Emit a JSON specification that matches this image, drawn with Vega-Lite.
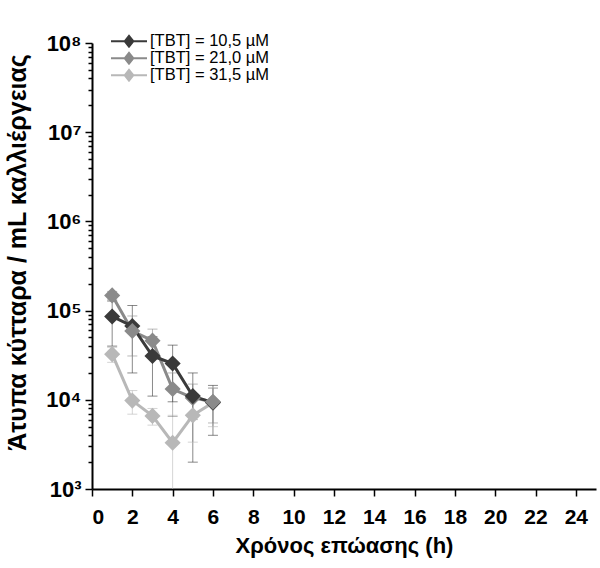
{
  "$schema": "https://vega.github.io/schema/vega-lite/v6.json",
  "width": 504,
  "height": 446,
  "autosize": {"type": "none"},
  "padding": {"left": 92, "top": 43, "right": 4, "bottom": 79},
  "background": "white",
  "config": {
    "view": {"stroke": null},
    "font": "Liberation Sans",
    "axis": {"grid": false, "domainColor": "#000", "domainWidth": 2, "tickColor": "#000", "tickWidth": 1.5, "labelFont": "Liberation Sans", "labelFontWeight": "bold", "labelFontSize": 21, "labelColor": "#000", "titleFont": "Liberation Sans", "titleFontWeight": "bold", "titleFontSize": 22, "titleColor": "#000"}
  },
  "data": {"values": [
    {"s": "[TBT] = 31,5 µM", "t": 1, "v": 32500, "lo": 26300, "hi": 38700},
    {"s": "[TBT] = 31,5 µM", "t": 2, "v": 9800, "lo": 6900, "hi": 12700},
    {"s": "[TBT] = 31,5 µM", "t": 3, "v": 6600, "lo": 5200, "hi": 8000},
    {"s": "[TBT] = 31,5 µM", "t": 4, "v": 3300, "lo": 1000, "hi": 6700},
    {"s": "[TBT] = 31,5 µM", "t": 5, "v": 6700, "lo": 3350, "hi": 10000},
    {"s": "[TBT] = 31,5 µM", "t": 6, "v": 9300, "lo": 5000, "hi": 13600},
    {"s": "[TBT] = 21,0 µM", "t": 1, "v": 148000, "lo": 132000, "hi": 164000},
    {"s": "[TBT] = 21,0 µM", "t": 3, "v": 46000, "lo": 30000, "hi": 62000},
    {"s": "[TBT] = 21,0 µM", "t": 4, "v": 13200, "lo": 6500, "hi": 20000},
    {"s": "[TBT] = 21,0 µM", "t": 5, "v": 10500, "lo": 6000, "hi": 15000},
    {"s": "[TBT] = 10,5 µM", "t": 1, "v": 86000, "lo": 40000, "hi": 128000},
    {"s": "[TBT] = 10,5 µM", "t": 2, "v": 67000, "lo": 20000, "hi": 114000},
    {"s": "[TBT] = 10,5 µM", "t": 3, "v": 31000, "lo": 11000, "hi": 51000},
    {"s": "[TBT] = 10,5 µM", "t": 4, "v": 25500, "lo": 9500, "hi": 41000},
    {"s": "[TBT] = 10,5 µM", "t": 5, "v": 11000, "lo": 2000, "hi": 20000},
    {"s": "[TBT] = 10,5 µM", "t": 6, "v": 9300, "lo": 4000, "hi": 14500},
    {"s": "[TBT] = 21,0 µM", "t": 2, "v": 59000, "lo": 31000, "hi": 87000},
    {"s": "[TBT] = 21,0 µM", "t": 6, "v": 9500, "lo": 5500, "hi": 13500}
  ]},
  "layer": [
    {
      "mark": {"type": "rule", "strokeWidth": 1, "opacity": 0.6},
      "encoding": {
        "x": {"field": "t", "type": "quantitative"},
        "y": {"field": "lo", "type": "quantitative"},
        "y2": {"field": "hi"},
        "color": {"field": "s", "type": "nominal"}
      }
    },
    {
      "mark": {"type": "tick", "orient": "horizontal", "size": 10, "thickness": 1, "opacity": 0.6},
      "encoding": {
        "x": {"field": "t", "type": "quantitative"},
        "y": {"field": "hi", "type": "quantitative"},
        "color": {"field": "s", "type": "nominal"}
      }
    },
    {
      "transform": [{"filter": "datum.lo > 1000"}],
      "mark": {"type": "tick", "orient": "horizontal", "size": 10, "thickness": 1, "opacity": 0.6},
      "encoding": {
        "x": {"field": "t", "type": "quantitative"},
        "y": {"field": "lo", "type": "quantitative"},
        "color": {"field": "s", "type": "nominal"}
      }
    },
    {
      "mark": {"type": "line", "strokeWidth": 3},
      "encoding": {
        "x": {"field": "t", "type": "quantitative",
          "scale": {"domain": [0, 25], "nice": false},
          "axis": {"values": [0, 2, 4, 6, 8, 10, 12, 14, 16, 18, 20, 22, 24], "tickSize": 7, "labelFontSize": 21, "labelPadding": 10, "title": "Χρόνος επώασης (h)", "titlePadding": 8}},
        "y": {"field": "v", "type": "quantitative",
          "scale": {"type": "log", "domain": [1000, 100000000], "nice": false},
          "axis": {"values": [1000,2000,3000,4000,5000,6000,7000,8000,9000,10000,20000,30000,40000,50000,60000,70000,80000,90000,100000,200000,300000,400000,500000,600000,700000,800000,900000,1000000,2000000,3000000,4000000,5000000,6000000,7000000,8000000,9000000,10000000,20000000,30000000,40000000,50000000,60000000,70000000,80000000,90000000,100000000],
            "labelExpr": "abs(log(datum.value)/LN10 - round(log(datum.value)/LN10)) < 0.000001 ? '10' + ['⁰','¹','²','³','⁴','⁵','⁶','⁷','⁸'][round(log(datum.value)/LN10)] : ''",
            "tickSize": {"condition": {"test": "abs(log(datum.value)/LN10 - round(log(datum.value)/LN10)) < 0.000001", "value": 7}, "value": 4},
            "labelFontSize": 22, "labelPadding": 4, "labelFlush": false, "labelOverlap": false,
            "title": "Άτυπα κύτταρα / mL καλλιέργειας", "titleFontSize": 25, "titlePadding": 15, "titleY": 209}},
        "color": {"field": "s", "type": "nominal",
          "scale": {"domain": ["[TBT] = 10,5 µM", "[TBT] = 21,0 µM", "[TBT] = 31,5 µM"], "range": ["#3a3a3a", "#8a8a8a", "#b8b8b8"]},
          "legend": {"title": null, "orient": "none", "legendX": 18, "legendY": -10,
            "symbolType": "M-1,0H1M-0.24,0L0,-0.3L0.24,0L0,0.3Z", "symbolSize": 1296, "symbolStrokeWidth": 2,
            "clipHeight": 16.5, "rowPadding": 0, "labelFont": "Liberation Sans", "labelFontSize": 16.5, "labelColor": "#000", "labelOffset": 2,
            "encode": {"symbols": {"update": {"opacity": {"value": 1}, "fillOpacity": {"value": 1}, "strokeOpacity": {"value": 1}}}}}}
      }
    },
    {
      "mark": {"type": "point", "shape": "diamond", "filled": true, "size": 260, "opacity": 1},
      "encoding": {
        "x": {"field": "t", "type": "quantitative"},
        "y": {"field": "v", "type": "quantitative"},
        "color": {"field": "s", "type": "nominal"}
      }
    }
  ]
}
